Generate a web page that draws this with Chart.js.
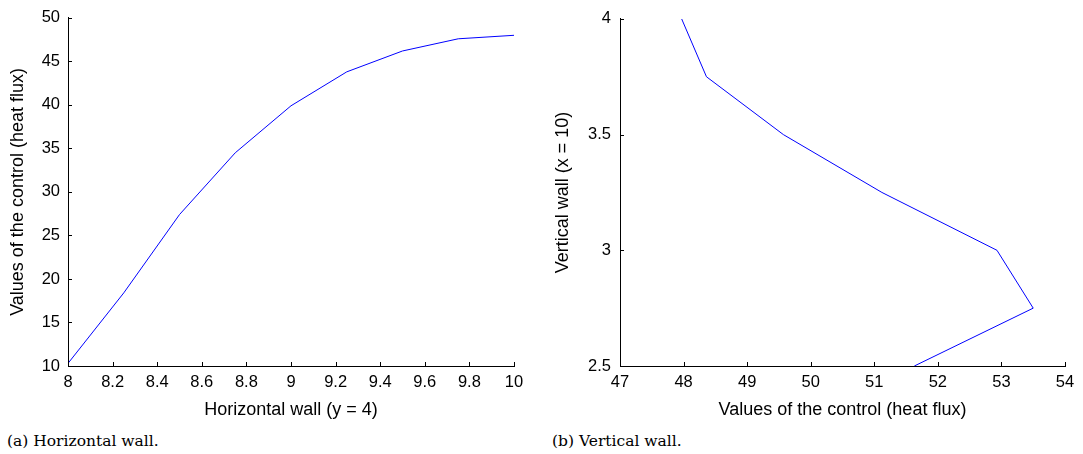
<!DOCTYPE html>
<html><head><meta charset="utf-8">
<script src="https://cdn.jsdelivr.net/npm/chart.js@4/dist/chart.umd.min.js"></script>
<style>
html,body{margin:0;padding:0;background:#fff;width:1083px;height:454px;overflow:hidden;}
.wrap{position:absolute;top:0;height:425px;}
#w1{left:0;width:540px;}
#w2{left:540px;width:543px;}
.cap{position:absolute;top:432px;font:15.5px "DejaVu Serif";line-height:18px;color:#000;white-space:nowrap;}
</style></head><body>
<div class="wrap" id="w1"><canvas id="c1"></canvas></div>
<div class="wrap" id="w2"><canvas id="c2"></canvas></div>
<div class="cap" style="left:7px">(a) Horizontal wall.</div>
<div class="cap" style="left:552px">(b) Vertical wall.</div>
<script>
// (a) Horizontal wall
const hPos  = [8, 8.25, 8.5, 8.75, 9, 9.25, 9.5, 9.75, 10];
const hFlux = [10.3, 18.4, 27.4, 34.5, 39.9, 43.8, 46.2, 47.6, 48.0];
const hXTicks = [8, 8.2, 8.4, 8.6, 8.8, 9, 9.2, 9.4, 9.6, 9.8, 10];
const hYTicks = [10, 15, 20, 25, 30, 35, 40, 45, 50];
// (b) Vertical wall
const vFlux = [47.97, 48.36, 49.57, 51.12, 52.93, 53.50, 51.63];
const vPos  = [4, 3.75, 3.5, 3.25, 3, 2.75, 2.5];
const vXTicks = [47, 48, 49, 50, 51, 52, 53, 54];
const vYTicks = [2.5, 3, 3.5, 4];

const tickFont = {family: '"Liberation Sans", Arial, sans-serif', size: 16.5};
const titleFont = {family: '"Liberation Sans", Arial, sans-serif', size: 18};
const ink = '#000';

const inwardTicks = {
  id: 'inwardTicks',
  afterDraw(chart) {
    const {ctx, chartArea: a} = chart;
    const xs = chart.scales.x, ys = chart.scales.y;
    ctx.save();
    ctx.strokeStyle = '#000';
    ctx.lineWidth = 1;
    ctx.beginPath();
    xs.ticks.forEach(t => {
      const p = Math.round(xs.getPixelForValue(t.value)) + 0.5;
      ctx.moveTo(p, a.bottom); ctx.lineTo(p, a.bottom - 4);
    });
    ys.ticks.forEach(t => {
      const p = Math.round(ys.getPixelForValue(t.value)) + 0.5;
      ctx.moveTo(a.left, p); ctx.lineTo(a.left + 4, p);
    });
    ctx.stroke();
    ctx.restore();
  }
};

function makeChart(id, pts, xr, yr, xTicks, yTicks, xTitle, yTitle, opts) {
  return new Chart(document.getElementById(id), {
    type: 'scatter',
    data: {datasets: [{
      data: pts, showLine: true, borderColor: '#0000ff', borderWidth: 1,
      pointRadius: 0, pointHoverRadius: 0, tension: 0, fill: false
    }]},
    options: {
      animation: false, responsive: true, maintainAspectRatio: false,
      layout: {padding: {left: 0, right: opts.padRight, top: 15, bottom: 0}},
      plugins: {legend: {display: false}, tooltip: {enabled: false}},
      scales: {
        x: {
          type: 'linear', min: xr[0], max: xr[1],
          afterBuildTicks: s => { s.ticks = xTicks.map(v => ({value: v})); },
          afterFit: s => { s.height = 59; },
          grid: {display: true, color: 'rgba(0,0,0,0)', drawTicks: false},
          border: {display: true, color: '#000', width: 1},
          ticks: {font: tickFont, color: ink, padding: 7, maxRotation: 0, autoSkip: false, callback: v => String(v)},
          title: {display: true, text: xTitle, font: titleFont, color: ink, padding: {top: 0, bottom: 4}}
        },
        y: {
          type: 'linear', min: yr[0], max: yr[1],
          afterBuildTicks: s => { s.ticks = yTicks.map(v => ({value: v})); },
          afterFit: s => { s.width = opts.yWidth; },
          grid: {display: true, color: 'rgba(0,0,0,0)', drawTicks: false},
          border: {display: true, color: '#000', width: 1},
          ticks: {font: tickFont, color: ink, padding: opts.yPad, autoSkip: false, callback: v => String(v)},
          title: {display: true, text: yTitle, font: titleFont, color: ink, padding: {top: opts.yTitlePad, bottom: 0}}
        }
      }
    },
    plugins: [inwardTicks]
  });
}

makeChart('c1', hPos.map((x, i) => ({x: x, y: hFlux[i]})), [8, 10], [10, 50], hXTicks, hYTicks,
  'Horizontal wall (y = 4)', 'Values of the control (heat flux)',
  {padRight: 26, yWidth: 68, yPad: 8, yTitlePad: 7});

makeChart('c2', vPos.map((y, i) => ({x: vFlux[i], y: y})), [47, 54], [2.5, 4], vXTicks, vYTicks,
  'Values of the control (heat flux)', 'Vertical wall (x = 10)',
  {padRight: 18, yWidth: 80, yPad: 9, yTitlePad: 12});
</script>
</body></html>
